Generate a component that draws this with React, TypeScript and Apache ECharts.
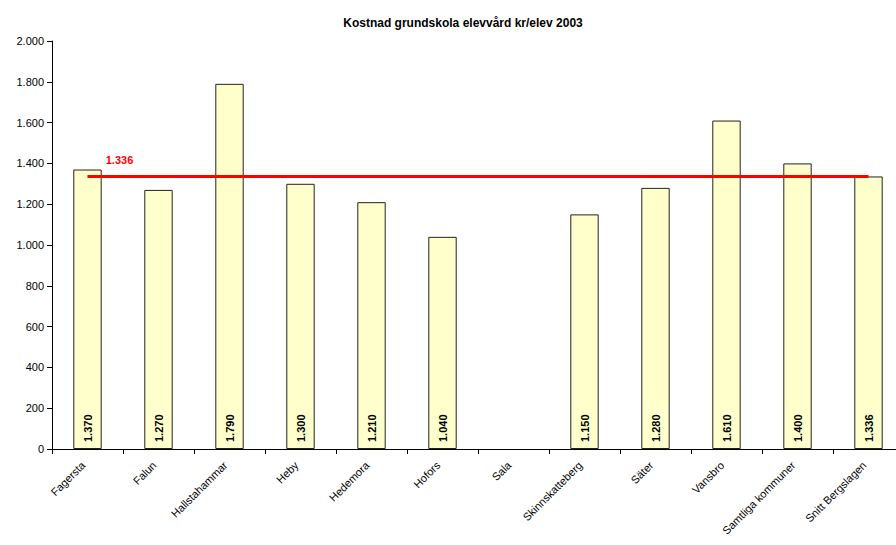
import React, { useEffect, useRef } from "react";
import * as echarts from "echarts";

const categories = [
  "Fagersta",
  "Falun",
  "Hallstahammar",
  "Heby",
  "Hedemora",
  "Hofors",
  "Sala",
  "Skinnskatteberg",
  "Säter",
  "Vansbro",
  "Samtliga kommuner",
  "Snitt Bergslagen",
];
const costValues: (number | null)[] = [1370, 1270, 1790, 1300, 1210, 1040, null, 1150, 1280, 1610, 1400, 1336];
const averageValue = 1336;
const yTicks = { min: 0, max: 2000, interval: 200 };

const fmt = (v: number) => {
  const s = Math.round(v).toString();
  return s.replace(/\B(?=(\d{3})+(?!\d))/g, ".");
};

export default function App() {
  const ref = useRef<HTMLDivElement>(null);
  useEffect(() => {
    if (!ref.current) return;
    const chart = echarts.init(ref.current, undefined, { renderer: "svg" });
    const font = "Liberation Sans, Arial, sans-serif";
    chart.setOption({
      animation: false,
      backgroundColor: "#ffffff",
      textStyle: { fontFamily: font },
      title: {
        text: "Kostnad grundskola elevvård kr/elev 2003",
        left: 458,
        top: 12,
        textAlign: "center",
        textStyle: { fontFamily: font, fontSize: 12, fontWeight: "bold", color: "#000" },
      },
      grid: { left: 52, top: 41, bottom: 96, right: 0 },
      xAxis: {
        type: "category",
        data: categories,
        axisLine: { lineStyle: { color: "#000", width: 1 } },
        axisTick: { show: true, length: 5, lineStyle: { color: "#000" } },
        axisLabel: {
          rotate: 45,
          interval: 0,
          fontSize: 11,
          color: "#000",
          fontFamily: font,
          margin: 10,
          padding: [0, 6, 0, 0],
        },
      },
      yAxis: {
        type: "value",
        min: yTicks.min,
        max: yTicks.max,
        interval: yTicks.interval,
        splitLine: { show: false },
        axisLine: { show: true, lineStyle: { color: "#000", width: 1 } },
        axisTick: { show: true, length: 5, lineStyle: { color: "#000" } },
        axisLabel: {
          fontSize: 11,
          color: "#000",
          fontFamily: font,
          margin: 8,
          formatter: (v: number) => fmt(v),
        },
      },
      series: [
        {
          type: "bar",
          data: costValues,
          barWidth: "40%",
          itemStyle: { color: "#FFFFCC", borderColor: "#222", borderWidth: 1 },
          label: {
            show: true,
            position: "insideBottom",
            rotate: 90,
            align: "left",
            verticalAlign: "middle",
            distance: 7,
            fontSize: 11,
            fontWeight: "bold",
            color: "#000",
            fontFamily: font,
            formatter: (p: any) => (p.value == null ? "" : fmt(p.value)),
          },
          z: 1,
        },
        {
          type: "line",
          data: categories.map((_, i) =>
            i === 0
              ? {
                  value: averageValue,
                  label: {
                    show: true,
                    position: "top",
                    offset: [32, -6],
                    color: "#ff0000",
                    fontWeight: "bold",
                    fontSize: 11,
                    fontFamily: font,
                    formatter: () => fmt(averageValue),
                  },
                }
              : averageValue
          ),
          symbol: "circle",
          symbolSize: 0,
          showSymbol: true,
          lineStyle: { color: "#ff0000", width: 3 },
          itemStyle: { color: "#ff0000" },
          label: { show: false },
          z: 5,
        },
      ],
    });
    return () => chart.dispose();
  }, []);
  return (
    <div
      style={{
        position: "fixed",
        left: 0,
        top: 0,
        width: 896,
        height: 545,
        overflow: "hidden",
        background: "#fff",
      }}
    >
      <div ref={ref} style={{ position: "absolute", left: 0, top: 0, width: 904, height: 545 }} />
    </div>
  );
}
